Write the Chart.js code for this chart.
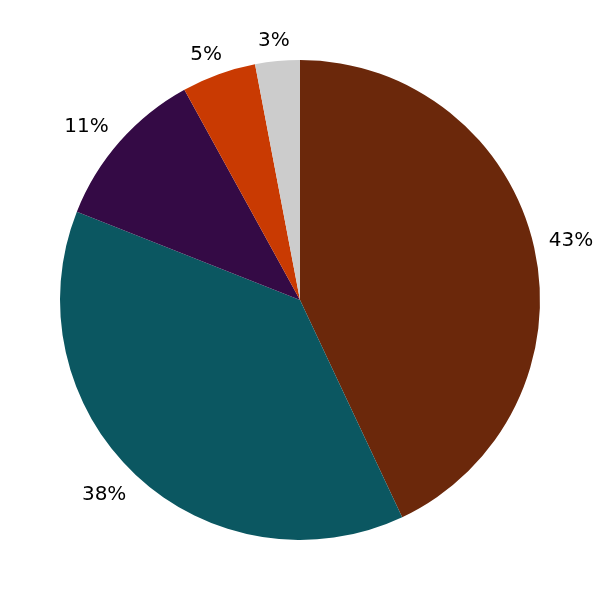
<!DOCTYPE html>
<html>
<head>
<meta charset="utf-8">
<script src="https://cdn.jsdelivr.net/npm/chart.js"></script>
<style>
    body { margin: 0; background: #fff; }
    #wrap { width: 600px; height: 600px; }
</style>
</head>
<body>
<div id="wrap"><canvas id="pie-chart" width="600" height="600"></canvas></div>
<script>
const sliceNames = ['A', 'B', 'C', 'D', 'E'];
const sliceValues = [43, 38, 11, 5, 3];
const sliceColors = ['#6b280b', '#0b5761', '#340a45', '#c93a02', '#cccccc'];

// draws the percent labels just outside each slice, pushed out by the text box
const outsideLabels = {
    id: 'outsideLabels',
    afterDatasetsDraw(chart) {
        const ctx = chart.ctx;
        const meta = chart.getDatasetMeta(0);
        const total = sliceValues.reduce((a, b) => a + b, 0);
        ctx.save();
        ctx.font = '20px "DejaVu Sans"';
        ctx.fillStyle = '#000';
        ctx.textAlign = 'center';
        ctx.textBaseline = 'middle';
        meta.data.forEach((arc, i) => {
            const text = Math.round(sliceValues[i] / total * 100) + '%';
            const w = ctx.measureText(text).width;
            const mid = (arc.startAngle + arc.endAngle) / 2;
            const dx = Math.cos(mid);
            const dy = Math.sin(mid);
            const r = arc.outerRadius + 15;
            const x = arc.x + dx * r + Math.sign(dx) * (w / 2) * Math.min(1, Math.abs(dx) * 1.4);
            const y = arc.y + dy * r + Math.sign(dy) * 7 * Math.min(1, Math.abs(dy) * 3.5) + 2;
            ctx.fillText(text, x, y);
        });
        ctx.restore();
    }
};

const ctx = document.getElementById('pie-chart');
//eslint-disable-next-line no-undef
new Chart(ctx, {
    type: 'pie',
    data: {
        labels: sliceNames,
        datasets: [{
            data: sliceValues,
            backgroundColor: sliceColors,
            borderWidth: 0
        }]
    },
    options: {
        responsive: false,
        animation: false,
        layout: { padding: 60 },
        plugins: {
            legend: { display: false },
            tooltip: { enabled: false }
        }
    },
    plugins: [outsideLabels]
});
</script>
</body>
</html>
